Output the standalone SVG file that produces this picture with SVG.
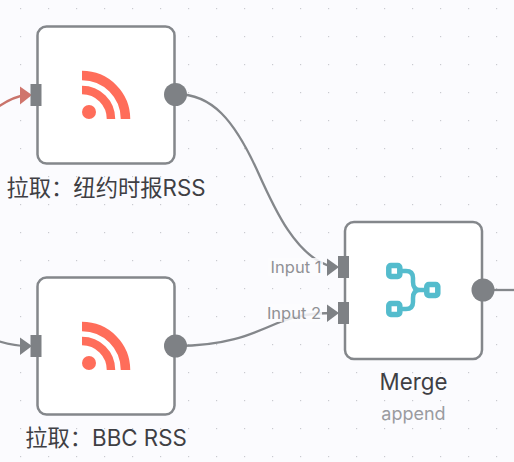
<svg xmlns="http://www.w3.org/2000/svg" width="514" height="462" viewBox="0 0 514 462">
<defs>
<pattern id="dots" x="20" y="8" width="28" height="28" patternUnits="userSpaceOnUse"><rect x="0" y="0" width="1.2" height="1.2" fill="#c9cad0"/></pattern>
<g id="rss"><circle cx="7" cy="41" r="7" fill="#ff6d5a"/><path d="M0 19A29 29 0 0 1 29 48" fill="none" stroke="#ff6d5a" stroke-width="8.500"/><path d="M0 4.500A43.500 43.500 0 0 1 43.500 48" fill="none" stroke="#ff6d5a" stroke-width="9.500"/></g>
</defs>
<style>
.box{fill:#fff;stroke:#84878b;stroke-width:2.500}
.port{fill:#7e8185}
.edge{fill:none;stroke:#84878b;stroke-width:2.300}
.lab{font-family:Inter,"Noto Sans CJK SC",sans-serif;font-size:22.300px;fill:#3f3f44;text-anchor:middle}
.sub{font-family:Inter,sans-serif;font-size:18px;fill:#9a9ba0;text-anchor:middle}
.in{font-family:Inter,sans-serif;font-size:16.500px;fill:#909195;text-anchor:middle}
.halo{fill:#fbfbfe;opacity:.85}
</style>
<rect width="514" height="462" fill="#fbfbfe"/>
<rect width="514" height="462" fill="url(#dots)"/>
<g id="connectors">
<path d="M-2 107C8 100 16 96 27 95" fill="none" stroke="#c9746b" stroke-width="2.300"/>
<path d="M20 86.500L32 95L20 104.500Z" fill="#d0756c"/>
<path class="edge" d="M-2 341C8 344 16 346 27 346"/>
<path d="M20 337.500L32 346L20 355Z" fill="#7e8185"/>
<path class="edge" d="M176 94C212 94 234 120 257 170C274 208 296 258 333 267"/>
<path d="M327 258.500L339 267L327 276Z" fill="#7e8185"/>
<path class="edge" d="M176 346C226 346 250 335 280 322C294 316 310 313 333 313"/>
<path d="M327 304.500L339 313L327 322Z" fill="#7e8185"/>
<path class="edge" d="M484 290H514"/>
</g>
<g id="node-nyt">
<rect class="box" x="37.500" y="26.500" width="137" height="137" rx="9"/>
<rect class="port" x="30.500" y="84" width="11" height="22"/>
<circle class="port" cx="175.500" cy="94.500" r="11.500"/>
<use href="#rss" x="82" y="71"/>
<text class="lab" x="106" y="196">拉取：纽约时报RSS</text>
</g>
<g id="node-bbc">
<rect class="box" x="37.500" y="277.500" width="137" height="137" rx="9"/>
<rect class="port" x="30.500" y="335" width="11" height="22"/>
<circle class="port" cx="175.500" cy="346" r="11.500"/>
<use href="#rss" x="82" y="322"/>
<text class="lab" x="106" y="446">拉取：BBC RSS</text>
</g>
<g id="node-merge">
<rect class="box" x="345" y="222" width="137" height="137" rx="9"/>
<rect class="port" x="338" y="256" width="11" height="22"/>
<rect class="port" x="338" y="302" width="11" height="22"/>
<circle class="port" cx="483" cy="290" r="11.500"/>
<g fill="none" stroke="#54bccd" stroke-width="5.500">
<rect x="388.800" y="265.500" width="11" height="11" rx="2"/>
<rect x="388.800" y="303.500" width="11" height="11" rx="2"/>
<rect x="426.800" y="284.500" width="11" height="11" rx="2"/>
<path stroke-width="4.500" d="M400 271H406Q413 271 413 278V282Q413 290 420 290H427M420 290Q413 290 413 298V302Q413 309 406 309H400"/>
</g>
<text class="lab" x="413.500" y="390">Merge</text>
<text class="sub" x="413.500" y="420">append</text>
<rect class="halo" x="268" y="258" width="55" height="18"/>
<rect class="halo" x="266" y="304" width="56" height="18"/>
<text class="in" x="296" y="273">Input 1</text>
<text class="in" x="294" y="319">Input 2</text>
</g>
</svg>
